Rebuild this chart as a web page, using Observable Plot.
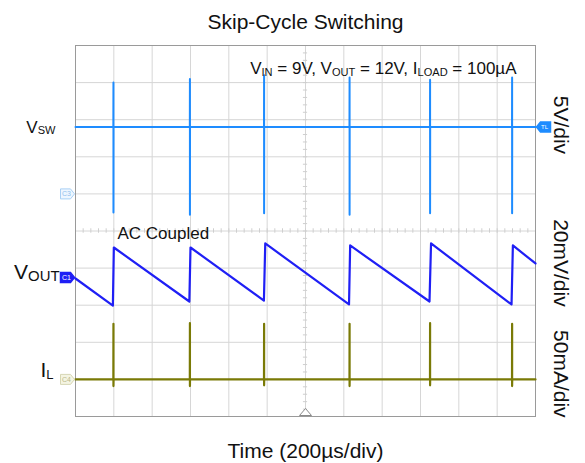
<!DOCTYPE html>
<html><head><meta charset="utf-8">
<script src="https://cdn.jsdelivr.net/npm/d3@7"></script>
<script src="https://cdn.jsdelivr.net/npm/@observablehq/plot@0.6"></script>
<style>
html,body{margin:0;padding:0;background:#fff;}
#chart{width:585px;height:463px;overflow:hidden;}
</style></head><body><div id="chart"></div>
<script>
// ---------------- data (read from the scope capture) ----------------
// time in µs (200 µs/div), VSW in V, VOUT in mV (AC coupled), IL in mA
const spikeTimes = [198, 597, 984, 1430, 1850, 2278];
const vswBase = 9;
const vswPeaks = [15.0, 15.5, 16.0, 15.7, 15.4, 15.7];
const vswTroughs = [-2.5, -2.8, -2.6, -2.8, -2.6, -2.6];
const voutTimes = [0, 195, 200, 594, 600, 983, 990, 1427, 1433, 1847, 1855, 2275, 2282, 2400];
const voutMv = [-0.6, -15.2, 16.1, -13.0, 16.1, -12.5, 18.3, -14.6, 17.2, -13.0, 18.3, -14.6, 17.2, 7.5];
const ilBase = 0;
const ilPeaks = [75, 76, 75, 75, 76, 75];
const ilDips = [-9, -9, -8, -9, -8, -9];
const channelNames = ["V_{SW}", "V_{OUT}", "I_{L}"];
const channelTags = ["C3", "C1", "C4"];
const scaleLabels = ["5V/div", "20mV/div", "50mA/div"];
const titleText = "Skip-Cycle Switching";
const conditionText = "V_{IN} = 9V, V_{OUT} = 12V, I_{LOAD} = 100µA";
const noteText = "AC Coupled";
const xLabel = "Time (200µs/div)";

// ---------------- scope settings ----------------
const timePerDiv = 200, nDivX = 12, nDivY = 10;
const ch = {
  sw:   {zero: 6.0,  perDiv: 5},
  out:  {zero: 3.75, perDiv: 20},
  il:   {zero: 1.0,  perDiv: 50}
};
const toDiv = (c, v) => ch[c].zero + v / ch[c].perDiv;

// build traces from the arrays
const vsw = [{t: 0, v: vswBase}];
spikeTimes.forEach((s, i) => {
  vsw.push({t: s - 0.5, v: vswBase}, {t: s, v: vswPeaks[i]}, {t: s, v: vswTroughs[i]}, {t: s + 0.5, v: vswBase});
});
vsw.push({t: nDivX * timePerDiv, v: vswBase});
const il = [{t: 0, v: ilBase}];
spikeTimes.forEach((s, i) => {
  il.push({t: s - 0.5, v: ilBase}, {t: s, v: ilPeaks[i]}, {t: s, v: ilDips[i]}, {t: s + 0.5, v: ilBase});
});
il.push({t: nDivX * timePerDiv, v: ilBase});
const vout = voutTimes.map((t, i) => ({t, v: voutMv[i]}));

const xMax = nDivX * timePerDiv, xMid = xMax / 2;
const minorX = d3.range(0, xMax + 1, timePerDiv / 5);
const minorY = d3.range(0, nDivY + 0.001, 0.2);

const tagRight = {draw(c) { c.moveTo(-7, -5); c.lineTo(3, -5); c.lineTo(7, 0); c.lineTo(3, 5); c.lineTo(-7, 5); c.closePath(); }};
const tagLeft = {draw(c) { c.moveTo(7, -5); c.lineTo(-3, -5); c.lineTo(-7, 0); c.lineTo(-3, 5); c.lineTo(7, 5); c.closePath(); }};
const trig = {draw(c) { c.moveTo(0, -8); c.lineTo(6, -1); c.lineTo(-6, -1); c.closePath(); }};

const font = "'Liberation Sans', Arial, Helvetica, sans-serif";
const swColor = "#1e8cff", outColor = "#1f1ff5", ilColor = "#7a7a06";

const plot = Plot.plot({
  width: 585, height: 463,
  marginLeft: 75, marginRight: 50, marginTop: 45, marginBottom: 47,
  x: {domain: [0, xMax], axis: null},
  y: {domain: [0, nDivY], axis: null},
  style: {fontFamily: font, background: "#fff", color: "#111"},
  marks: [
    Plot.ruleX(d3.range(0, xMax + 1, timePerDiv), {stroke: "#d6d6d6", strokeWidth: 1}),
    Plot.ruleY(d3.range(0, nDivY + 1), {stroke: "#d6d6d6", strokeWidth: 1}),
    Plot.ruleX(minorX, {x: d => d, y1: nDivY / 2 - 0.06, y2: nDivY / 2 + 0.06, stroke: "#cfcfcf"}),
    Plot.ruleY(minorY, {y: d => d, x1: xMid - 11, x2: xMid + 11, stroke: "#cfcfcf"}),
    Plot.frame({stroke: "#9a9a9a"}),
    Plot.line(vsw, {x: "t", y: d => toDiv("sw", d.v), stroke: swColor, strokeWidth: 2}),
    Plot.line(vout, {x: "t", y: d => toDiv("out", d.v), stroke: outColor, strokeWidth: 2.2}),
    Plot.line(il, {x: "t", y: d => toDiv("il", d.v), stroke: ilColor, strokeWidth: 2.2}),
    // channel ground tags
    Plot.dot([ch.sw.zero], {y: d => d, frameAnchor: "left", dx: -8, symbol: tagRight, fill: "#eef6ff", stroke: "#a9d0f5", strokeWidth: 1}),
    Plot.text([channelTags[0]], {y: ch.sw.zero, frameAnchor: "left", textAnchor: "middle", dx: -9, fontSize: 7, fill: "#8fbfee"}),
    Plot.dot([ch.out.zero], {y: d => d, frameAnchor: "left", dx: -8, symbol: tagRight, fill: outColor, stroke: outColor}),
    Plot.text([channelTags[1]], {y: ch.out.zero, frameAnchor: "left", textAnchor: "middle", dx: -9, fontSize: 7, fill: "#fff"}),
    Plot.dot([ch.il.zero], {y: d => d, frameAnchor: "left", dx: -8, symbol: tagRight, fill: "#f4f4e2", stroke: "#d6d6b4", strokeWidth: 1}),
    Plot.text([channelTags[2]], {y: ch.il.zero, frameAnchor: "left", textAnchor: "middle", dx: -9, fontSize: 7, fill: "#b9b98a"}),
    Plot.dot([toDiv("sw", vswBase)], {y: d => d, frameAnchor: "right", dx: 8, symbol: tagLeft, fill: swColor, stroke: swColor}),
    Plot.text(["TL"], {y: toDiv("sw", vswBase), frameAnchor: "right", textAnchor: "middle", dx: 9, fontSize: 6, fill: "#fff"}),
    Plot.dot([xMid], {x: d => d, frameAnchor: "bottom", symbol: trig, fill: "#fff", stroke: "#8a8a8a", strokeWidth: 1}),
    // channel names
    Plot.text([channelNames[0]], {y: toDiv("sw", vswBase), frameAnchor: "left", textAnchor: "end", dx: -20, dy: 0, fontSize: 17, fill: "#111"}),
    Plot.text([channelNames[1]], {y: ch.out.zero, frameAnchor: "left", textAnchor: "end", dx: -16, dy: -5, fontSize: 21, fill: "#111"}),
    Plot.text([channelNames[2]], {y: ch.il.zero, frameAnchor: "left", textAnchor: "end", dx: -22, dy: -9, fontSize: 21, fill: "#111"}),
    // volts/div labels
    Plot.text([scaleLabels[0]], {y: 7.86, frameAnchor: "right", textAnchor: "middle", dx: 25, rotate: 90, fontSize: 21, fill: "#111"}),
    Plot.text([scaleLabels[1]], {y: 4.14, frameAnchor: "right", textAnchor: "middle", dx: 25, rotate: 90, fontSize: 21, fill: "#111"}),
    Plot.text([scaleLabels[2]], {y: 1.15, frameAnchor: "right", textAnchor: "middle", dx: 25, rotate: 90, fontSize: 21, fill: "#111"}),
    // annotations
    Plot.text([titleText], {frameAnchor: "top", lineAnchor: "bottom", dy: -16.5, fontSize: 21, fill: "#111"}),
    Plot.text([xLabel], {frameAnchor: "bottom", lineAnchor: "bottom", dy: 41, fontSize: 21, fill: "#111"}),
    Plot.text([conditionText], {frameAnchor: "top-right", textAnchor: "end", lineAnchor: "bottom", dx: -19, dy: 28.5, fontSize: 17, fill: "#111"}),
    Plot.text([noteText], {frameAnchor: "top-left", textAnchor: "start", lineAnchor: "bottom", dx: 42, dy: 193.5, fontSize: 17, fill: "#111"})
  ]
});
document.getElementById("chart").appendChild(plot);

// render _{...} as real subscripts
const subRatio = {"V_{OUT}": 0.71, "I_{L}": 0.62};
plot.querySelectorAll("text").forEach(t => {
  const s = t.textContent;
  if (!s.includes("_{")) return;
  const fs = parseFloat(getComputedStyle(t).fontSize);
  const ratio = subRatio[s] || 0.65;
  const shift = (fs * 0.11).toFixed(2);
  while (t.firstChild) t.removeChild(t.firstChild);
  let shifted = false;
  for (const p of s.split(/(_\{[^}]*\})/)) {
    if (!p) continue;
    const ts = document.createElementNS("http://www.w3.org/2000/svg", "tspan");
    if (p.startsWith("_{")) {
      ts.textContent = p.slice(2, -1);
      ts.setAttribute("font-size", (fs * ratio).toFixed(2));
      if (!shifted) { ts.setAttribute("dy", shift); shifted = true; }
    } else {
      ts.textContent = p;
      if (shifted) { ts.setAttribute("dy", -shift); shifted = false; }
    }
    t.appendChild(ts);
  }
});
</script></body></html>
